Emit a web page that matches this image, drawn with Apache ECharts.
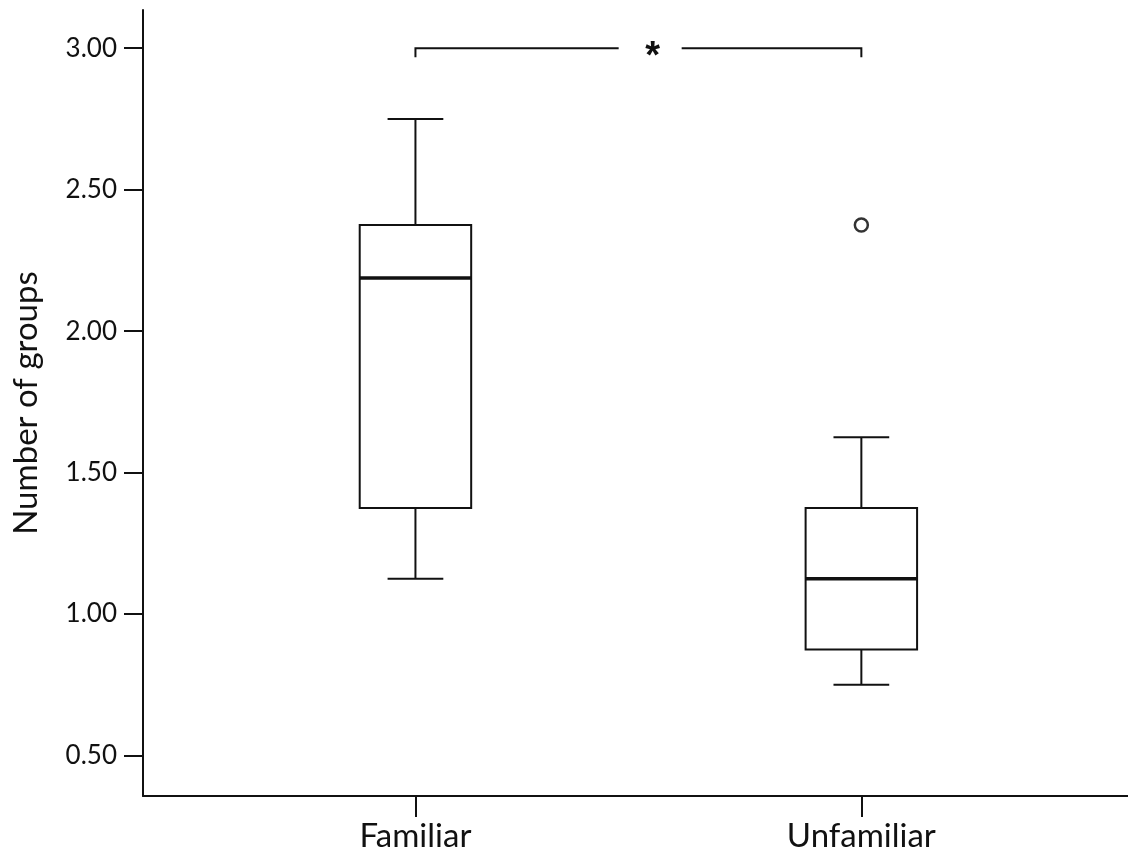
<!DOCTYPE html>
<html>
<head>
<meta charset="utf-8">
<title>Number of groups</title>
<script src="https://cdn.jsdelivr.net/npm/echarts@6/dist/echarts.min.js"></script>
<style>
  html, body { margin: 0; padding: 0; background: #fff; }
  #chart { width: 1128px; height: 854px; }
</style>
</head>
<body>
<div id="chart"></div>
<script>
// Group labels and five-number summaries (one entry per group)
const categories = ['Familiar', 'Unfamiliar'];
const whiskerLow  = [1.125, 0.75];
const q1          = [1.375, 0.875];
const median      = [2.1875, 1.125];
const q3          = [2.375, 1.375];
const whiskerHigh = [2.75, 1.625];
// Outliers as [group index, value]
const outliers = [[1, 2.375]];
// Significance bracket between the two groups
const bracketLevel = 3.0;
const bracketMark = '*';
// Y tick labels
const yTicks = [0.5, 1.0, 1.5, 2.0, 2.5, 3.0];

const FONT = 'Lato, "Open Sans", sans-serif';
const INK = '#111';

const boxData = categories.map((c, i) =>
  [i + 1, whiskerLow[i], q1[i], median[i], q3[i], whiskerHigh[i]]);
const outlierData = outliers.map(o => [o[0] + 1, o[1]]);

const BOX_HALF = 0.125;   // half box width, in x units
const CAP_HALF = 0.0625;  // half whisker-cap width

function renderBox(params, api) {
  const x = api.value(0);
  const lo = api.value(1), b1 = api.value(2), md = api.value(3),
        b3 = api.value(4), hi = api.value(5);
  const pL = api.coord([x - BOX_HALF, b3]);
  const pR = api.coord([x + BOX_HALF, b1]);
  const line = (xa, ya, xb, yb, w) => {
    const a = api.coord([xa, ya]), b = api.coord([xb, yb]);
    return { type: 'line', shape: { x1: a[0], y1: a[1], x2: b[0], y2: b[1] },
             style: { stroke: INK, lineWidth: w || 2 } };
  };
  return {
    type: 'group',
    children: [
      line(x, hi, x, b3),
      line(x, lo, x, b1),
      line(x - CAP_HALF, hi, x + CAP_HALF, hi),
      line(x - CAP_HALF, lo, x + CAP_HALF, lo),
      { type: 'rect',
        shape: { x: pL[0], y: pL[1], width: pR[0] - pL[0], height: pR[1] - pL[1] },
        style: { fill: '#fff', stroke: INK, lineWidth: 2 } },
      line(x - BOX_HALF, md, x + BOX_HALF, md, 3.5)
    ]
  };
}

function renderBracket(params, api) {
  const xa = api.value(0), xb = api.value(1), lvl = api.value(2);
  const a = api.coord([xa, lvl]), b = api.coord([xb, lvl]);
  const drop = 9;
  // the mark sits a little right of the midpoint, with a gap either side
  const markX = a[0] + (b[0] - a[0]) * 0.532;
  const s = { stroke: INK, lineWidth: 2, fill: null };
  return {
    type: 'group',
    children: [
      { type: 'polyline', shape: { points: [[a[0], a[1] + drop], [a[0], a[1]], [markX - 34, a[1]]] }, style: s },
      { type: 'polyline', shape: { points: [[markX + 29, b[1]], [b[0], b[1]], [b[0], b[1] + drop]] }, style: s },
      { type: 'text', x: markX, y: a[1] + 9,
        style: { text: bracketMark, fill: INK, font: 'bold 38px "Liberation Sans", Arial, sans-serif',
                 align: 'center', verticalAlign: 'middle' } }
    ]
  };
}

const chart = echarts.init(document.getElementById('chart'), null, { renderer: 'canvas' });
chart.setOption({
  backgroundColor: '#fff',
  animation: false,
  textStyle: { fontFamily: FONT },
  grid: { left: 143, right: 0, top: 10, bottom: 58, containLabel: false },
  xAxis: {
    type: 'value',
    min: 0.389,
    max: 2.598,
    splitLine: { show: false },
    axisLine: { show: true, lineStyle: { color: INK, width: 2 } },
    axisTick: { show: true, customValues: [1, 2], length: 21, lineStyle: { color: INK, width: 2 } },
    axisLabel: {
      customValues: [1, 2],
      formatter: v => categories[Math.round(v) - 1] || '',
      color: INK, fontSize: 33, fontFamily: FONT, margin: 24
    }
  },
  yAxis: {
    type: 'value',
    min: 0.357,
    max: 3.135,
    name: 'Number of groups',
    nameLocation: 'middle',
    nameRotate: 90,
    nameGap: 100,
    nameTextStyle: { color: INK, fontSize: 33, fontFamily: FONT },
    splitLine: { show: false },
    axisLine: { show: true, lineStyle: { color: INK, width: 2 } },
    axisTick: { show: true, customValues: yTicks, length: 19, lineStyle: { color: INK, width: 2 } },
    axisLabel: {
      customValues: yTicks,
      formatter: v => v.toFixed(2),
      color: INK, fontSize: 26, fontFamily: FONT, margin: 26
    }
  },
  series: [
    {
      type: 'custom',
      name: 'box',
      renderItem: renderBox,
      encode: { x: 0, y: [1, 2, 3, 4, 5] },
      data: boxData,
      z: 2
    },
    {
      type: 'scatter',
      name: 'outlier',
      symbol: 'circle',
      symbolSize: 13,
      itemStyle: { color: '#fff', borderColor: '#000', borderWidth: 2.5 },
      data: outlierData,
      z: 3
    },
    {
      type: 'custom',
      name: 'bracket',
      renderItem: renderBracket,
      encode: { x: [0, 1], y: 2 },
      data: [[1, 2, bracketLevel]],
      clip: false,
      z: 3
    }
  ]
});
</script>
</body>
</html>
